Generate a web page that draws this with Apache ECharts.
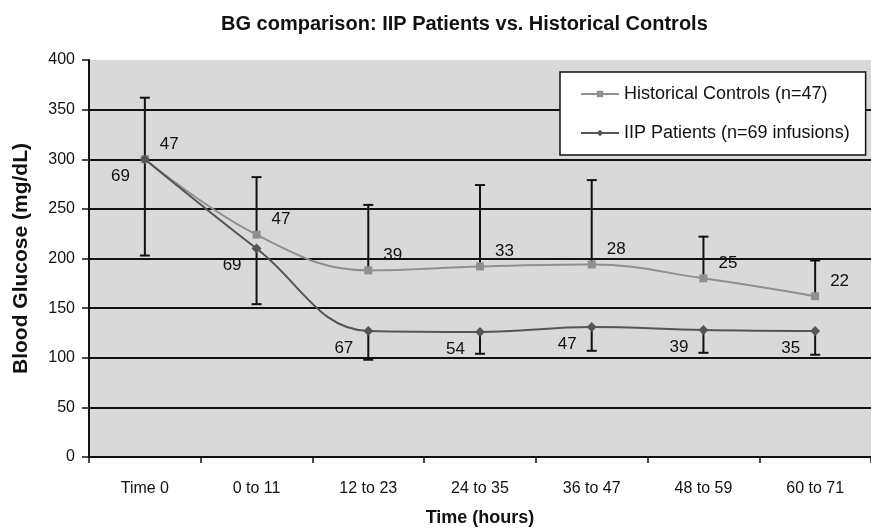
<!DOCTYPE html>
<html>
<head>
<meta charset="utf-8">
<script src="https://cdn.jsdelivr.net/npm/echarts@6/dist/echarts.min.js"></script>
<style>
html,body{margin:0;padding:0;background:#fff;}
#chart{width:871px;height:532px;}
</style>
</head>
<body>
<div id="chart"></div>
<script>
var categories = ['Time 0', '0 to 11', '12 to 23', '24 to 35', '36 to 47', '48 to 59', '60 to 71'];
var controlsMean = [300, 224, 188, 192, 194, 180, 162];
var controlsUpper = [362, 282, 254, 274, 279, 222, 198];
var controlsN = [47, 47, 39, 33, 28, 25, 22];
var iipMean = [300, 210, 127, 126, 131, 128, 127];
var iipLower = [203, 154, 98, 104, 107, 105, 103];
var iipN = [69, 69, 67, 54, 47, 39, 35];
var yTicks = [0, 50, 100, 150, 200, 250, 300, 350, 400];

var FONT = '"Liberation Sans", Arial, sans-serif';

function errorBarRender(params, api) {
  var x = api.value(0);
  var p1 = api.coord([x, api.value(1)]);
  var p2 = api.coord([x, api.value(2)]);
  var half = 5;
  var st = { stroke: '#111', lineWidth: 2 };
  return {
    type: 'group',
    children: [
      { type: 'line', shape: { x1: p1[0], y1: p1[1], x2: p2[0], y2: p2[1] }, style: st },
      { type: 'line', shape: { x1: p2[0] - half, y1: p2[1], x2: p2[0] + half, y2: p2[1] }, style: st }
    ]
  };
}

var chart = echarts.init(document.getElementById('chart'), null, { renderer: 'canvas' });
chart.setOption({
  animation: false,
  textStyle: { fontFamily: FONT },
  title: {
    text: 'BG comparison: IIP Patients vs. Historical Controls',
    left: 216,
    top: 9,
    textStyle: { fontFamily: FONT, fontSize: 20, fontWeight: 'bold', color: '#111' }
  },
  grid: {
    left: 89, top: 60, width: 787, height: 400,
    show: true, backgroundColor: '#d9d9d9', borderWidth: 0
  },
  legend: {
    orient: 'vertical',
    left: 560, top: 72,
    backgroundColor: '#fff',
    borderColor: '#111', borderWidth: 1.5, borderRadius: 0,
    padding: [13, 16, 13, 20],
    itemGap: 21,
    itemWidth: 38, itemHeight: 8,
    textStyle: { fontFamily: FONT, fontSize: 18, color: '#111' },
    data: ['Historical Controls (n=47)', 'IIP Patients (n=69 infusions)']
  },
  xAxis: {
    type: 'category',
    data: categories,
    boundaryGap: true,
    name: 'Time (hours)',
    nameLocation: 'middle',
    nameGap: 52,
    nameTextStyle: { fontFamily: FONT, fontSize: 18, fontWeight: 'bold', color: '#111' },
    axisLine: { lineStyle: { color: '#111', width: 2 } },
    axisTick: { show: true, length: 6, lineStyle: { color: '#111', width: 1.5 } },
    axisLabel: { fontFamily: FONT, fontSize: 16, color: '#111', margin: 24 },
    splitLine: { show: false }
  },
  yAxis: {
    type: 'value',
    min: 0, max: 400, interval: 50,
    name: 'Blood Glucose (mg/dL)',
    nameLocation: 'middle',
    nameGap: 57,
    nameRotate: 90,
    nameTextStyle: { fontFamily: FONT, fontSize: 21, fontWeight: 'bold', color: '#111' },
    axisLine: { show: true, lineStyle: { color: '#111', width: 2 } },
    axisTick: { show: true, length: 7, lineStyle: { color: '#111', width: 1.5 } },
    axisLabel: {
      fontFamily: FONT, fontSize: 16, color: '#111', margin: 14,
      formatter: function (v) { return yTicks.indexOf(v) >= 0 ? String(v) : ''; }
    },
    splitLine: { show: true, showMaxLine: false, lineStyle: { color: '#111', width: 1.8 } }
  },
  series: [
    {
      name: 'Historical Controls (n=47)',
      type: 'line',
      data: controlsMean,
      smooth: 0.4,
      symbol: 'rect',
      symbolSize: 8,
      z: 3,
      lineStyle: { color: '#8f8f8f', width: 2 },
      itemStyle: { color: '#8f8f8f' },
      label: {
        show: true, position: 'right', distance: 11, offset: [0, -15],
        fontFamily: FONT, fontSize: 17, color: '#111',
        formatter: function (p) { return String(controlsN[p.dataIndex]); }
      }
    },
    {
      name: 'IIP Patients (n=69 infusions)',
      type: 'line',
      data: iipMean,
      smooth: 0.4,
      symbol: 'diamond',
      symbolSize: 10,
      z: 4,
      lineStyle: { color: '#555', width: 2 },
      itemStyle: { color: '#555' },
      label: {
        show: true, position: 'left', distance: 10, offset: [0, 17],
        fontFamily: FONT, fontSize: 17, color: '#111',
        formatter: function (p) { return String(iipN[p.dataIndex]); }
      }
    },
    {
      type: 'custom',
      name: 'controlsErr',
      renderItem: errorBarRender,
      data: controlsMean.map(function (m, i) { return [i, m, controlsUpper[i]]; }),
      encode: { x: 0, y: [1, 2] },
      z: 2,
      silent: true
    },
    {
      type: 'custom',
      name: 'iipErr',
      renderItem: errorBarRender,
      data: iipMean.map(function (m, i) { return [i, m, iipLower[i]]; }),
      encode: { x: 0, y: [1, 2] },
      z: 2,
      silent: true
    }
  ]
});
</script>
</body>
</html>
